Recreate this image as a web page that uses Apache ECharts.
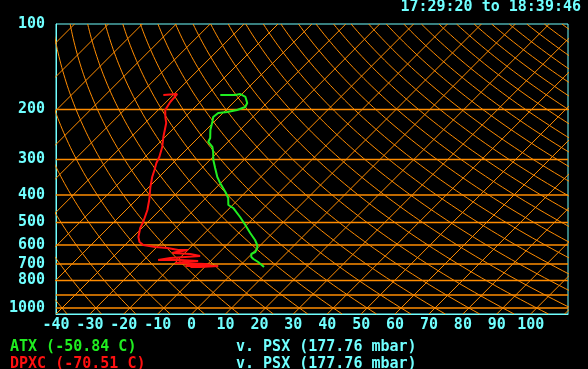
<!DOCTYPE html>
<html>
<head>
<meta charset="utf-8">
<script src="https://cdn.jsdelivr.net/npm/echarts@6/dist/echarts.min.js"></script>
<style>
    html, body { margin: 0; padding: 0; background: #000; }
    #chart { width: 588px; height: 369px; }
</style>
</head>
<body>
<div id="chart"></div>
<script>
    // sounding, top of the trace first (mbar, deg C)
    var atxPres = [177.8, 177.8, 176.4, 180.7, 189.7, 196.0, 200.9, 204.2, 205.8, 212.6, 221.3, 236.2,
        252.0, 260.3, 271.1, 282.3, 301.2, 321.4, 345.8, 363.1, 390.4, 410.0, 433.8, 444.5, 478.2,
        510.3, 544.5, 576.3, 600.1, 614.9, 635.2, 645.6, 661.4, 672.3, 688.8, 717.3]
    var atxTemp = [-56.1, -51.7, -50.5, -48.1, -45.8, -45.2, -46.7, -49.0, -51.4, -51.7, -50.5, -48.7,
        -46.4, -45.8, -43.1, -41.4, -39.0, -36.1, -32.8, -30.2, -26.0, -23.4, -21.3, -19.0, -14.3,
        -10.4, -6.6, -3.1, -1.0, -0.1, 0.5, -0.1, 0.8, 2.0, 4.3, 7.5]

    var dpxPres = [177.8, 176.4, 188.2, 200.9, 212.6, 223.1, 250.0, 271.1, 294.0, 308.6, 326.7, 345.8,
        374.9, 416.7, 451.8, 498.0, 523.0, 562.3, 585.6, 600.1, 610.0, 614.9, 624.9, 624.9, 635.2,
        640.4, 645.6, 656.1, 661.4, 666.8, 677.7, 677.7, 683.2, 688.8, 694.4, 700.1, 705.8, 705.8,
        711.5, 711.5, 717.3, 717.3]
    var dpxTemp = [-72.9, -69.1, -68.8, -67.9, -65.8, -63.8, -60.5, -57.9, -55.8, -54.9, -53.4, -52.0,
        -49.6, -46.1, -43.7, -41.4, -40.5, -38.4, -36.6, -34.6, -30.5, -26.6, -22.8, -19.9, -22.8,
        -23.7, -18.1, -14.6, -18.7, -22.8, -25.8, -19.3, -13.7, -17.2, -19.9, -10.7, -8.9, -13.4,
        -16.0, -6.3, -11.3, -14.2]

    var presLabels = [100, 200, 300, 400, 500, 600, 700, 800, 1000]
    var isobars = [200, 300, 400, 500, 600, 700, 800, 900, 1000]
    var timeText = '17:29:20 to 18:39:46'
    var atxText = 'ATX (-50.84 C)'
    var dpxText = 'DPXC (-70.51 C)'
    var psxText = 'v. PSX (177.76 mbar)'

    var SKEW = 83.7      // deg C of shift per decade of pressure
    var PBOT = 1050
    var PTOP = 100
    var TMIN = -40
    var TMAX = 111

    var cyan = '#70ffff'
    var orange = '#ff8c00'
    var font = '"DejaVu Sans Mono", monospace'

    function skewX(t, p) {
        return t + SKEW * Math.log10(PBOT / p)
    }

    function sounding(pres, temp) {
        return pres.map(function (p, i) { return [skewX(temp[i], p), p] })
    }

    var series = []

    // isotherms
    for (var t = -130; t <= 110; t += 10) {
        series.push({
            type: 'line', silent: true, symbol: 'none', clip: true,
            lineStyle: { color: orange, width: 1 },
            data: [[skewX(t, PBOT), PBOT], [skewX(t, PTOP), PTOP]]
        })
    }

    // dry adiabats, labelled by temperature at 1000 mbar
    for (var t0 = -40; t0 <= 330; t0 += 10) {
        var pts = []
        for (var i = 0; i <= 80; i++) {
            var p = PBOT * Math.pow(PTOP / PBOT, i / 80)
            var tp = (t0 + 273.15) * Math.pow(p / 1000, 0.2857) - 273.15
            pts.push([skewX(tp, p), p])
        }
        series.push({
            type: 'line', silent: true, symbol: 'none', clip: true,
            lineStyle: { color: orange, width: 1 },
            data: pts
        })
    }

    // isobars
    isobars.forEach(function (p) {
        series.push({
            type: 'line', silent: true, symbol: 'none', clip: true,
            lineStyle: { color: orange, width: 1.5 },
            data: [[TMIN, p], [TMAX, p]]
        })
    })

    series.push({
        name: 'DPXC', type: 'line', symbol: 'none', clip: true,
        lineStyle: { color: '#ff1010', width: 2 },
        data: sounding(dpxPres, dpxTemp)
    })
    series.push({
        name: 'ATX', type: 'line', symbol: 'none', clip: true,
        lineStyle: { color: '#20ee20', width: 2 },
        data: sounding(atxPres, atxTemp)
    })

    var chart = echarts.init(document.getElementById('chart'))
    chart.setOption({
        backgroundColor: '#000',
        animation: false,
        grid: {
            left: 56, right: 20, top: 24, bottom: 55,
            show: true, borderColor: cyan, borderWidth: 1
        },
        xAxis: {
            type: 'value', min: TMIN, max: TMAX, interval: 10,
            axisLine: { show: true, onZero: false, lineStyle: { color: cyan } },
            axisTick: { show: false },
            splitLine: { show: false },
            axisLabel: {
                color: cyan, fontFamily: font, fontWeight: 'bold', fontSize: 15, margin: 4,
                formatter: function (v) { return v > 100 ? '' : String(v) }
            }
        },
        yAxis: {
            type: 'log', logBase: 10, min: PTOP, max: PBOT, inverse: true,
            axisLine: { show: true, onZero: false, lineStyle: { color: cyan } },
            axisTick: { show: false },
            splitLine: { show: false },
            axisLabel: {
                color: cyan, fontFamily: font, fontWeight: 'bold', fontSize: 15, margin: 11,
                customValues: presLabels,
                formatter: function (v) { return String(Math.round(v)) }
            }
        },
        graphic: [
            { type: 'text', right: 7, top: 0, style: { text: timeText, fill: cyan, font: 'bold 15px ' + font } },
            { type: 'text', x: 10, y: 347, style: { text: atxText, fill: '#20ee20', font: 'bold 15px ' + font, verticalAlign: 'middle' } },
            { type: 'text', x: 10, y: 364, style: { text: dpxText, fill: '#ff1010', font: 'bold 15px ' + font, verticalAlign: 'middle' } },
            { type: 'text', x: 236, y: 347, style: { text: psxText, fill: cyan, font: 'bold 15px ' + font, verticalAlign: 'middle' } },
            { type: 'text', x: 236, y: 364, style: { text: psxText, fill: cyan, font: 'bold 15px ' + font, verticalAlign: 'middle' } }
        ],
        series: series
    })
</script>
</body>
</html>
